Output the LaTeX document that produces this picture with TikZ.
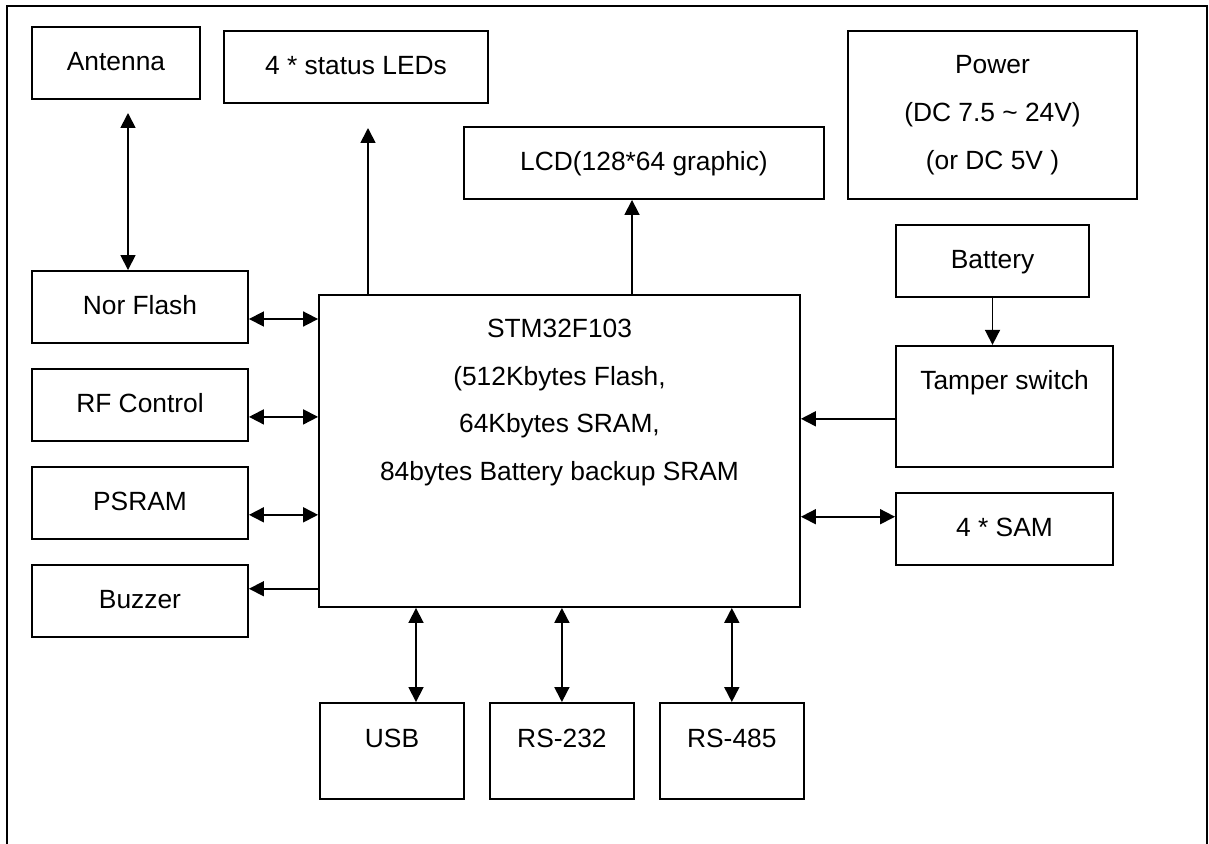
\documentclass[tikz,border=0pt]{standalone}
\usepackage{fontspec}
\setmainfont{Liberation Sans}
\usepackage{tikz}
\usetikzlibrary{arrows.meta,positioning}
\tikzset{
	boxline/.style={draw, line width=1.1pt, inner sep=0pt},
	blk/.style={boxline, text height=0.32cm, text depth=#1},
	blk/.default=0pt,
	arrow/.style={-{Triangle[length=0.3cm,width=0.3cm]}, line width=1pt},
	dblarrow/.style={{Triangle[length=0.3cm,width=0.3cm]}-{Triangle[length=0.3cm,width=0.3cm]}, line width=1pt}
}
\begin{document}
\begin{tikzpicture}[x=0.02cm, y=-0.02cm, font=\fontsize{15}{27.2}\selectfont]
	\useasboundingbox (0,0) rectangle (1209,844);
	
	%% -- outer frame (open at the bottom)
	\draw[line width=1.1pt] (7,844) -- (7,6) -- (1207,6) -- (1207,844);
	
	%% -- top row
	\node[blk, minimum width=3.36cm, minimum height=1.44cm] (antenna) at (116,63) {Antenna};
	\node[blk, minimum width=5.28cm, minimum height=1.44cm] (leds) at (356,67) {4 * status LEDs};
	\node[blk, minimum width=7.2cm, minimum height=1.44cm] (lcd) at (644,163) {LCD(128*64 graphic)};
	\node[boxline, align=center, minimum width=5.78cm, minimum height=3.36cm] (power) at (992.5,115)
	{Power\\(DC 7.5 \textasciitilde{} 24V)\\(or DC 5V )};
	
	%% -- MCU
	\node[boxline, minimum width=9.62cm, minimum height=6.24cm] (mcu) at (559.5,451) {};
	\node[inner sep=0pt, align=center, below=0.49cm of mcu.north] (mcutxt)
	{STM32F103\\(512Kbytes Flash,\\64Kbytes SRAM,\\84bytes Battery backup SRAM};
	
	%% -- left column
	\node[blk, minimum width=4.32cm, minimum height=1.44cm] (nor) at (140,307) {Nor Flash};
	\node[blk, minimum width=4.32cm, minimum height=1.44cm, below=0.48cm of nor] (rf) {RF Control};
	\node[blk, minimum width=4.32cm, minimum height=1.44cm, below=0.48cm of rf] (psram) {PSRAM};
	\node[blk, minimum width=4.32cm, minimum height=1.44cm, below=0.48cm of psram] (buzz) {Buzzer};
	
	%% -- right column
	\node[blk, minimum width=3.86cm, minimum height=1.44cm, below=0.48cm of power] (bat) {Battery};
	\node[blk=0.98cm, minimum width=4.34cm, minimum height=2.42cm,
	below=0.94cm of bat.south west, anchor=north west] (tamper) {Tamper switch};
	\node[blk, minimum width=4.34cm, minimum height=1.44cm, below=0.48cm of tamper] (sam) {4 * SAM};
	
	%% -- bottom row
	\node[blk=0.48cm, minimum width=2.88cm, minimum height=1.92cm] (usb) at (392,751) {USB};
	\node[blk=0.48cm, minimum width=2.88cm, minimum height=1.92cm, right=0.48cm of usb] (rs232) {RS-232};
	\node[blk=0.48cm, minimum width=2.88cm, minimum height=1.92cm, right=0.48cm of rs232] (rs485) {RS-485};
	
	%% -- free arrow ends
	\coordinate (anttip) at (128,113);
	\coordinate (ledtip) at (368,128);
	
	%% -- top connections
	\draw[dblarrow] (anttip) -- (anttip |- nor.north);
	\draw[arrow] (ledtip |- mcu.north) -- (ledtip);
	\draw[arrow] ([xshift=-0.24cm]lcd.south |- mcu.north) -- ([xshift=-0.24cm]lcd.south);
	\draw[arrow] (bat) -- (bat |- tamper.north);
	
	%% -- left connections
	\draw[dblarrow] ([yshift=-0.24cm]nor.east) -- ([yshift=-0.24cm]nor.east -| mcu.west);
	\draw[dblarrow] ([yshift=-0.24cm]rf.east) -- ([yshift=-0.24cm]rf.east -| mcu.west);
	\draw[dblarrow] ([yshift=-0.24cm]psram.east) -- ([yshift=-0.24cm]psram.east -| mcu.west);
	\draw[arrow] ([yshift=0.24cm]buzz.east -| mcu.west) -- ([yshift=0.24cm]buzz.east);
	
	%% -- right connections
	\draw[arrow] ([yshift=-0.25cm]tamper.west) -- ([yshift=-0.25cm]tamper.west -| mcu.east);
	\draw[dblarrow] ([yshift=0.24cm]sam.west -| mcu.east) -- ([yshift=0.24cm]sam.west);
	
	%% -- bottom connections
	\draw[dblarrow] ([xshift=0.48cm]usb.north |- mcu.south) -- ([xshift=0.48cm]usb.north);
	\draw[dblarrow] (rs232.north |- mcu.south) -- (rs232.north);
	\draw[dblarrow] (rs485.north |- mcu.south) -- (rs485.north);
	
\end{tikzpicture}
\end{document}
